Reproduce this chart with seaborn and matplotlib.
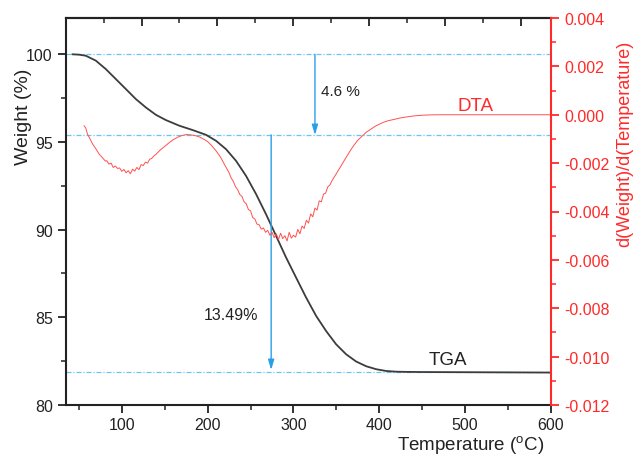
import matplotlib
matplotlib.use("Agg")
import matplotlib.pyplot as plt
import seaborn as sns
import pandas as pd
from matplotlib.ticker import MultipleLocator, FixedLocator

# ---- data ----
tga_temp = [42.4, 50, 58, 69.7, 81.3, 93, 104.7, 116.3, 128, 139.7, 151.3, 166.9, 182.5,
            198, 209.7, 221.4, 233, 244.7, 256.4, 268, 279.7, 291.4, 303, 314.7, 326.4,
            338, 349.7, 361.4, 373, 384.7, 396.4, 408, 419.7, 430, 450, 500, 550, 600]
tga_weight = [100.0, 99.98, 99.92, 99.64, 99.16, 98.59, 98.02, 97.45, 96.97, 96.55, 96.25,
              95.93, 95.68, 95.41, 95.07, 94.59, 93.93, 93.07, 92.03, 90.88, 89.65, 88.41,
              87.27, 86.13, 85.08, 84.22, 83.46, 82.89, 82.48, 82.21, 82.04, 81.94, 81.90,
              81.89, 81.88, 81.87, 81.86, 81.85]

dta_temp = [56, 58, 60, 63, 66, 70, 73.5, 77, 81,
            82.5, 85, 87.5, 90, 92.5, 95, 97.5, 100, 102.5, 105, 107.5, 110, 112.5, 115,
            117.5, 120, 122.5, 125, 127.5, 130, 132.5, 135, 137.5, 140,
            145, 150, 155, 160, 165, 170, 175, 180, 185, 190, 195, 200, 205, 210, 215, 220,
            225, 227.5, 230, 232.5, 235, 237.5, 240, 242.5, 245, 247.5, 250, 252.5, 255,
            257.5, 260, 262.5, 265, 267.5, 270, 272.5, 275, 277.5, 280, 282.5, 285, 287.5,
            290, 292.5, 295, 297.5, 300, 302.5, 305, 307.5, 310, 312.5, 315, 317.5, 320,
            322.5, 325, 327.5, 330, 332.5, 335, 337.5, 340, 342.5, 345,
            350, 355, 360, 365, 370, 375, 380, 385, 390, 395, 400, 405, 410, 415, 420, 425,
            430, 440, 450, 460, 470, 500, 550, 600]
dta_value = [-0.45, -0.55, -0.80, -1.00, -1.21, -1.42, -1.62, -1.76, -1.92,
             -1.90, -2.04, -2.00, -2.18, -2.12, -2.22, -2.20, -2.34, -2.26, -2.40, -2.31,
             -2.44, -2.25, -2.33, -2.18, -2.27, -2.06, -2.10, -1.96, -2.00, -1.84, -1.80,
             -1.70, -1.63,
             -1.45, -1.31, -1.16, -1.03, -0.93, -0.86, -0.82, -0.83, -0.86, -0.91, -1.00,
             -1.11, -1.29, -1.50, -1.75, -2.08,
             -2.40, -2.62, -2.76, -2.98, -3.10, -3.30, -3.38, -3.60, -3.68, -3.92, -3.97,
             -4.25, -4.31, -4.52, -4.55, -4.73, -4.68, -4.86, -4.78, -4.98, -4.86, -5.08,
             -4.92, -5.16, -4.90, -5.12, -5.00, -5.22, -4.86, -5.10, -4.98, -5.06, -4.74,
             -4.92, -4.60, -4.70, -4.36, -4.48, -4.10, -4.22, -3.86, -3.94, -3.56, -3.60,
             -3.28, -3.24, -2.98, -2.90, -2.72,
             -2.43, -2.14, -1.84, -1.55, -1.28, -1.05, -0.88, -0.72, -0.60, -0.48, -0.39,
             -0.31, -0.25, -0.21, -0.17, -0.13, -0.10, -0.05, -0.02, -0.005, 0.0, 0.0, 0.0,
             0.0]
dta_value = [v * 1e-3 for v in dta_value]

loss_levels = [100.0, 95.4, 81.9]
loss_labels = ["4.6 %", "13.49%"]

x_ticks = [100, 200, 300, 400, 500, 600]
y_ticks = [80, 85, 90, 95, 100]
y2_ticks = [0.004, 0.002, 0.000, -0.002, -0.004, -0.006, -0.008, -0.010, -0.012]

# ---- style ----
sns.set_style("ticks")
plt.rcParams["font.family"] = ["Liberation Sans", "DejaVu Sans"]
plt.rcParams["mathtext.default"] = "regular"

fig = plt.figure(figsize=(6.33, 4.56), dpi=100)
ax = fig.add_axes([66/633, 1-406/456, (551-66)/633, (406-19)/456])
ax2 = ax.twinx()

tga = pd.DataFrame({"T": tga_temp, "W": tga_weight})
dta = pd.DataFrame({"T": dta_temp, "D": dta_value})

blue_line = "#6cc3ee"
blue_arrow = "#2a9fe8"
red = "#ff2a2a"

for lv in loss_levels:
    ax.axhline(lv, color=blue_line, lw=0.9, ls=(0, (4, 1.5, 1, 1.5)), zorder=1)

sns.lineplot(data=tga, x="T", y="W", ax=ax, color="#3c3c3c", lw=1.3, zorder=3)
sns.lineplot(data=dta, x="T", y="D", ax=ax2, color="#ff5050", lw=0.7, zorder=2)

# arrows
ax.annotate("", xy=(325, loss_levels[1]), xytext=(325, loss_levels[0]),
            arrowprops=dict(arrowstyle="-|>,head_length=0.6,head_width=0.18",
                            color=blue_arrow, lw=1.0, shrinkA=0, shrinkB=0), zorder=4)
ax.annotate("", xy=(274, loss_levels[2] + 0.1), xytext=(274, loss_levels[1]),
            arrowprops=dict(arrowstyle="-|>,head_length=0.6,head_width=0.18",
                            color=blue_arrow, lw=1.0, shrinkA=0, shrinkB=0), zorder=4)

ax.text(332, 97.92, loss_labels[0], fontsize=11, color="#222222", va="center", ha="left")
ax.text(196, 85.14, loss_labels[1], fontsize=11.5, color="#222222", va="center", ha="left")
ax.text(491, 97.1, "DTA", fontsize=13.5, color=red, va="center", ha="left")
ax.text(457, 82.6, "TGA", fontsize=13.5, color="#222222", va="center", ha="left")

# axes limits and ticks
ax.set_xlim(35, 600)
ax.set_ylim(80, 102.07)
ax2.set_ylim(-0.012, 0.004)

ax.set_xticks(x_ticks)
ax.xaxis.set_minor_locator(MultipleLocator(50))
ax.set_yticks(y_ticks)
ax.yaxis.set_minor_locator(MultipleLocator(2.5))
ax2.set_yticks(y2_ticks)
ax2.set_yticklabels([f"{v:.3f}" for v in y2_ticks])
ax2.yaxis.set_minor_locator(MultipleLocator(0.001))

ax.tick_params(axis="both", which="major", direction="out", length=6, width=1.3,
               labelsize=11.5, colors="#222222", top=False, right=False)
ax.tick_params(axis="x", which="major", pad=2.5)
ax.tick_params(axis="both", which="minor", direction="out", length=3.5, width=1.1,
               top=False, right=False, colors="#222222")
ax2.tick_params(axis="y", which="major", direction="out", length=6, width=1.3,
                labelsize=11.5, colors=red)
ax2.tick_params(axis="y", which="minor", direction="out", length=3.5, width=1.1, colors=red)

# top ticks (independent scale)
top_major = [123.0, 211.2, 300.0, 388.3, 476.5, 565.0]
top_minor = [78.8, 167.1, 255.6, 344.2, 432.4, 520.8]
sec = ax.secondary_xaxis("top")
sec.set_xticks(top_major)
sec.xaxis.set_minor_locator(FixedLocator(top_minor))
sec.tick_params(axis="x", which="major", direction="in", length=6, width=1.3,
                labeltop=False, colors="#222222")
sec.tick_params(axis="x", which="minor", direction="in", length=3.5, width=1.1, colors="#222222")
sec.set_xticklabels([])
sec.spines["top"].set_linewidth(1.5)
sec.spines["top"].set_color("#222222")

for s in ["left", "bottom", "top"]:
    ax.spines[s].set_linewidth(1.5)
    ax.spines[s].set_color("#222222")
    ax.spines[s].set_visible(True)
ax.spines["right"].set_visible(False)
for s in ["left", "bottom", "top"]:
    ax2.spines[s].set_visible(False)
ax2.spines["right"].set_visible(True)
ax2.spines["right"].set_color(red)
ax2.spines["right"].set_linewidth(1.5)

ax.set_xlabel("")
ax.set_ylabel("")
ax2.set_ylabel("")
fig.text(471/633, 1-445/456, "Temperature ($^{o}$C)", fontsize=13.5, color="#222222",
         ha="center", va="center")
fig.text(24/633, 1-117/456, "Weight (%)", fontsize=14, color="#222222",
         ha="center", va="center", rotation=90)
fig.text(625/633, 1-144/456, "d(Weight)/d(Temperature)", fontsize=13, color=red,
         ha="center", va="center", rotation=90)

fig.savefig("out.png", dpi=100)
